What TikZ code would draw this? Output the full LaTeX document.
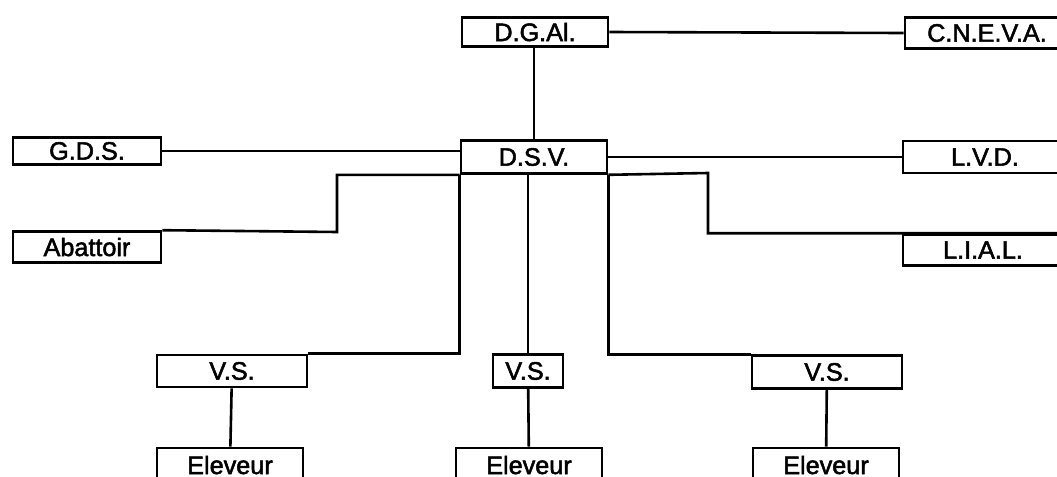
\documentclass[tikz,border=0pt]{standalone}
\usepackage{fontspec}
\setmainfont{Liberation Sans}
\newfontfamily\boxfont{Liberation Sans}[FakeBold=2]
\usepackage{tikz}

\begin{document}
\begin{tikzpicture}[x=0.5pt,y=-0.5pt,line width=1.3pt,
  box/.style={draw,line width=1.3pt,inner sep=0pt,minimum width=73pt,minimum height=15.5pt,font=\boxfont\fontsize{12.6}{14}\selectfont}]
 \clip (0,0) rectangle (1057,477);
 % top level
 \node[box,minimum height=14.5pt] (dgai) at (535,32) {D.G.Al.};
 \node[box,minimum width=82pt] (cneva) at (987,33) {C.N.E.V.A.};
 \node[box,minimum height=16.5pt] (dsv) at (534,157) {D.S.V.};
 % left and right partners
 \node[box,minimum width=74pt,minimum height=13.5pt] (gds) at (87,151) {G.D.S.};
 \node[box,minimum width=74pt] (abattoir) at (87,247) {Abattoir};
 \node[box,minimum width=82pt,minimum height=16pt] (lvd) at (985,157) {L.V.D.};
 \node[box,minimum width=80pt] (lial) at (983,250) {L.I.A.L.};
 % V.S. and Eleveur
 \node[box,minimum width=75pt,minimum height=16pt] (vs1) at (232,371) {V.S.};
 \node[box,minimum width=35pt,minimum height=16.5pt] (vs2) at (528,371) {V.S.};
 \node[box,minimum width=75pt,minimum height=16.5pt] (vs3) at (827,372) {V.S.};
 \node[box,minimum height=17pt] (el1) at (230,465) {Eleveur};
 \node[box,minimum height=17pt] (el2) at (529,465) {Eleveur};
 \node[box,minimum height=17pt] (el3) at (826,465) {Eleveur};
 \coordinate (abk) at (337,232);
 \coordinate (lialk) at (708,173);
 % connectors
 \draw (dgai.east) -- (cneva.west);
 \draw (dgai.south -| dsv.north) -- (dsv.north);
 \draw (gds.east) -- (gds.east -| dsv.west);
 \draw (dsv.east) -- (dsv.east -| lvd.west);
 \draw (abattoir.north east) -- (abk) |- (dsv.south west);
 \draw (dsv.south east) -- (lialk) |- (lial.north east);
 \draw (dsv.south west) |- (vs1.north east);
 \draw (dsv.south -| vs2.north) -- (vs2.north);
 \draw (dsv.south east) |- (vs3.north west);
 \draw (vs1) -- (el1);
 \draw (vs2) -- (el2);
 \draw (vs3) -- (el3);
\end{tikzpicture}
\end{document}
